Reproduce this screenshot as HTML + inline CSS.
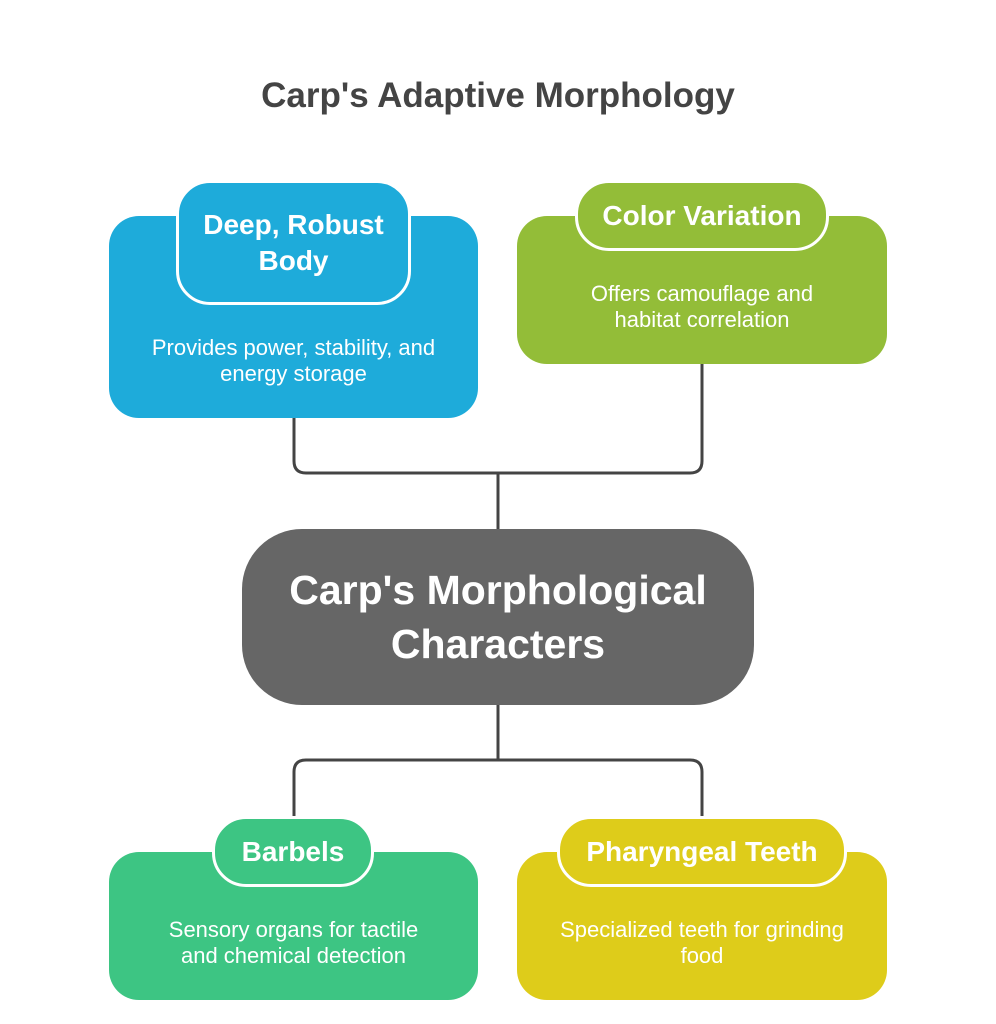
<!DOCTYPE html>
<html><head><style>
body{margin:0;width:996px;height:1024px;background:#fff;position:relative;font-family:"Liberation Sans",sans-serif;overflow:hidden}
.a{position:absolute;box-sizing:border-box}
.box{border-radius:30px;color:#fff;font-size:22px;line-height:26px;text-align:center;display:flex;align-items:center;justify-content:center}
.hd{border:3px solid #fff;border-radius:34px;color:#fff;font-weight:bold;font-size:28px;line-height:36px;text-align:center;display:flex;align-items:center;justify-content:center}
</style></head><body>
<div class="a" style="left:0;top:76px;width:996px;text-align:center;font-weight:bold;font-size:35px;color:#444">Carp's Adaptive Morphology</div>
<svg class="a" style="left:0;top:0" width="996" height="1024">
<g fill="none" stroke="#444" stroke-width="3">
<path d="M294 418 V461 Q294 473 306 473 H690 Q702 473 702 461 V364"/>
<path d="M498 473 V529"/>
<path d="M498 704 V760"/>
<path d="M294 816 V772 Q294 760 306 760 H690 Q702 760 702 772 V816"/>
</g></svg>
<div class="a box" style="left:109px;top:216px;width:369px;height:202px;background:#1EABDA;padding-top:88px">Provides power, stability, and<br>energy storage</div>
<div class="a hd" style="left:176px;top:180px;width:235px;height:125px;background:#1EABDA">Deep, Robust<br>Body</div>
<div class="a box" style="left:517px;top:216px;width:370px;height:148px;background:#93BD38;padding-top:34px">Offers camouflage and<br>habitat correlation</div>
<div class="a hd" style="left:575px;top:180px;width:254px;height:71px;background:#93BD38">Color Variation</div>
<div class="a" style="left:242px;top:529px;width:512px;height:176px;background:#666;border-radius:60px;color:#fff;font-weight:bold;font-size:41px;line-height:54px;text-align:center;display:flex;align-items:center;justify-content:center">Carp's Morphological<br>Characters</div>
<div class="a box" style="left:109px;top:852px;width:369px;height:148px;background:#3DC583;padding-top:34px">Sensory organs for tactile<br>and chemical detection</div>
<div class="a hd" style="left:212px;top:816px;width:162px;height:71px;background:#3DC583">Barbels</div>
<div class="a box" style="left:517px;top:852px;width:370px;height:148px;background:#DECC1A;padding-top:34px">Specialized teeth for grinding<br>food</div>
<div class="a hd" style="left:557px;top:816px;width:290px;height:71px;background:#DECC1A">Pharyngeal Teeth</div>
</body></html>
